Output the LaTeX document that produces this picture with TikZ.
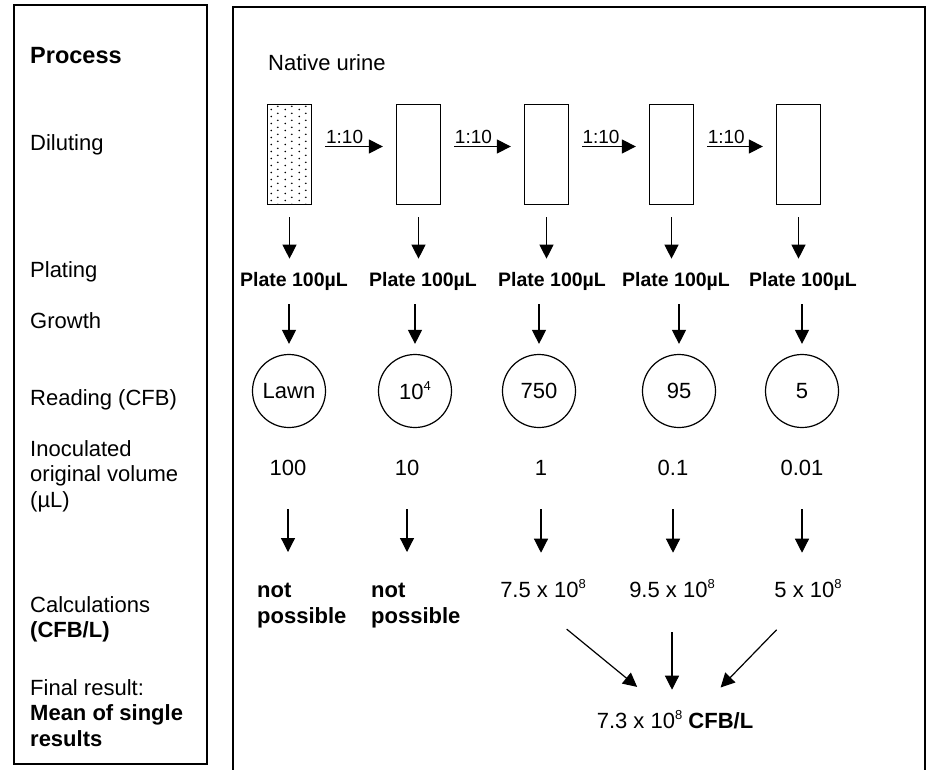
\documentclass[tikz,border=0pt]{standalone}
\usepackage{fontspec}
\setmainfont{Liberation Sans}
\usetikzlibrary{arrows.meta, positioning, patterns.meta}

\tikzdeclarepattern{
  name=urinedots,
  type=uncolored,
  bottom left={(0pt,0pt)},
  top right={(13.4pt,7pt)},
  tile size={(13.4pt,7pt)},
  code={
    \fill (3.35pt,1.75pt) circle (0.95pt);
    \fill (10.05pt,5.25pt) circle (0.95pt);
  }
}
\newcommand{\supnum}[1]{\raisebox{9pt}{\fontsize{13}{13}\selectfont #1}}

\begin{document}
\begin{tikzpicture}[x=1pt, y=-1pt,
    every node/.style={font=\fontsize{22}{25.5}\selectfont, inner sep=0pt}]
        \tikzset{
          tube/.style={draw, line width=1.3pt, minimum width=44pt,
                       minimum height=100pt},
          dish/.style={draw, circle, line width=1.2pt, minimum size=73pt},
          plate/.style={anchor=base, font=\fontsize{19.5}{22}\selectfont\bfseries},
          heavy/.style={font=\fontsize{22}{25.5}\selectfont\bfseries},
          lbl/.style={anchor=base west},
          down/.style={-{Triangle[length=14pt, width=14pt]}, line width=1.2pt},
          dil/.style={down, shorten <=13pt, shorten >=13pt},
          frame/.style={line width=1.4pt}
        }
        \path[use as bounding box, fill=white] (0,0) rectangle (928,769);
        \draw[frame] (14,5) rectangle (207,764);
        \draw[frame] (233,7) rectangle (925,775);

        % process steps
        \node[lbl, font=\fontsize{23.5}{26}\selectfont\bfseries] (hproc) at (30,63) {Process};
        \node[lbl] (hdil)  at (30,150) {Diluting};
        \node[lbl] (hplat) at (30,277) {Plating};
        \node[lbl] (hgrow) at (30,328) {Growth};
        \node[lbl] (hread) at (30,405) {Reading (CFB)};
        \node[anchor=north west, align=left] (hvol) at (30,440)
              {Inoculated\\original volume\\(µL)};
        \node[anchor=north west, align=left] (hcalc) at (30,596)
              {Calculations\\\textbf{(CFB/L)}};
        \node[anchor=north west, align=left] (hmean) at (30,679)
              {Final result:\\\textbf{Mean of single}\\\textbf{results}};

        % dilution series
        \node[lbl] (urine) at (268,70) {Native urine};
        \node[tube, pattern=urinedots, pattern color=black] (t1) at (289.5,154.5) {};
        \node[tube] (t2) at (418.5,154.5) {};
        \node[tube] (t3) at (546.5,154.5) {};
        \node[tube] (t4) at (671.5,154.5) {};
        \node[tube] (t5) at (798.5,154.5) {};
        \draw[dil] ([yshift=8pt]t1.east) -- node[pos=0.16, anchor=south west, yshift=2pt,
              font=\fontsize{19}{22}\selectfont] (d1) {1:10} ([yshift=8pt]t2.west);
        \draw[dil] ([yshift=8pt]t2.east) -- node[pos=0.16, anchor=south west, yshift=2pt,
              font=\fontsize{19}{22}\selectfont] (d2) {1:10} ([yshift=8pt]t3.west);
        \draw[dil] ([yshift=8pt]t3.east) -- node[pos=0.16, anchor=south west, yshift=2pt,
              font=\fontsize{19}{22}\selectfont] (d3) {1:10} ([yshift=8pt]t4.west);
        \draw[dil] ([yshift=8pt]t4.east) -- node[pos=0.16, anchor=south west, yshift=2pt,
              font=\fontsize{19}{22}\selectfont] (d4) {1:10} ([yshift=8pt]t5.west);

        % plating
        \node[plate] (p1) at (294,286) {Plate 100µL};
        \node[plate] (p2) at (423,286) {Plate 100µL};
        \node[plate] (p3) at (552,286) {Plate 100µL};
        \node[plate] (p4) at (676,286) {Plate 100µL};
        \node[plate] (p5) at (803,286) {Plate 100µL};
        \draw[down, shorten <=12pt, shorten >=13pt] (t1.south) -- (t1.south |- p1.north);
        \draw[down, shorten <=12pt, shorten >=13pt] (t2.south) -- (t2.south |- p2.north);
        \draw[down, shorten <=12pt, shorten >=13pt] (t3.south) -- (t3.south |- p3.north);
        \draw[down, shorten <=12pt, shorten >=13pt] (t4.south) -- (t4.south |- p4.north);
        \draw[down, shorten <=12pt, shorten >=13pt] (t5.south) -- (t5.south |- p5.north);

        % growth and reading
        \node[dish] (c1) at (289,391) {Lawn};
        \node[dish] (c2) at (415,391) {10\supnum{4}};
        \node[dish] (c3) at (539,391) {750};
        \node[dish] (c4) at (679,391) {95};
        \node[dish] (c5) at (802,391) {5};
        \draw[down, shorten <=14pt, shorten >=10pt] (c1.north |- p1.south) -- (c1.north);
        \draw[down, shorten <=14pt, shorten >=10pt] (c2.north |- p2.south) -- (c2.north);
        \draw[down, shorten <=14pt, shorten >=10pt] (c3.north |- p3.south) -- (c3.north);
        \draw[down, shorten <=14pt, shorten >=10pt] (c4.north |- p4.south) -- (c4.north);
        \draw[down, shorten <=14pt, shorten >=10pt] (c5.north |- p5.south) -- (c5.north);

        % volumes and calculations
        \node[anchor=base] (v1) at (288,475) {100};
        \node[anchor=base] (v2) at (407,475) {10};
        \node[anchor=base] (v3) at (541,475) {1};
        \node[anchor=base] (v4) at (673,475) {0.1};
        \node[anchor=base] (v5) at (802,475) {0.01};
        \node[heavy, anchor=north west, align=left] (r1) at (257,583) {not\\possible};
        \node[heavy, anchor=north west, align=left] (r2) at (371,583) {not\\possible};
        \node[anchor=base] (r3) at (543,597) {7.5 x 10\supnum{8}};
        \node[anchor=base] (r4) at (672,597) {9.5 x 10\supnum{8}};
        \node[anchor=base] (r5) at (808,597) {5 x 10\supnum{8}};
        \draw[down, shorten <=34pt, shorten >=31pt] (v1.south) -- (v1.south |- r1.north);
        \draw[down, shorten <=34pt, shorten >=31pt] (v2.south) -- (v2.south |- r2.north);
        \draw[down, shorten <=34pt, shorten >=26pt] (v3.south) -- (v3.south |- r3.north);
        \draw[down, shorten <=34pt, shorten >=26pt] (v4.south) -- (v4.south |- r4.north);
        \draw[down, shorten <=34pt, shorten >=26pt] (v5.south) -- (v5.south |- r5.north);

        % final result
        \node[anchor=base] (mean) at (675,728) {7.3 x 10\supnum{8} \textbf{CFB/L}};
        \draw[down, shorten <=50pt, shorten >=36pt] ([xshift=-15pt]r3.south) -- ([xshift=-10pt]mean.north);
        \draw[down, shorten <=35pt, shorten >=20pt] (r4.south) -- (r4.south |- mean.north);
        \draw[down, shorten <=45pt, shorten >=31pt] (r5.south) -- ([xshift=24pt]mean.north);
      \end{tikzpicture}
\end{document}
